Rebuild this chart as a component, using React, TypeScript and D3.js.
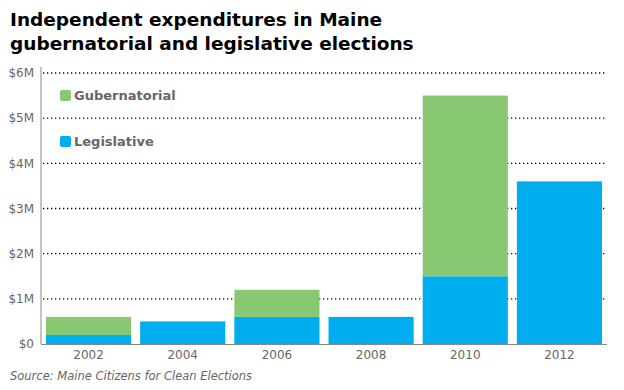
import React from "react";
import * as d3 from "d3";

const years = ["2002", "2004", "2006", "2008", "2010", "2012"];
const legislative = [0.2, 0.5, 0.6, 0.6, 1.5, 3.6];
const gubernatorial = [0.4, 0, 0.6, 0, 4.0, 0];
const yTicks = [0, 1, 2, 3, 4, 5, 6];
const yTickLabels = ["$0", "$1M", "$2M", "$3M", "$4M", "$5M", "$6M"];
const seriesNames = ["Gubernatorial", "Legislative"];

const GREEN = "#89c873";
const BLUE = "#00adef";
const GREY = "#666666";
const FONT = "'DejaVu Sans', Verdana, sans-serif";

export default function App() {
  const W = 624, H = 390;
  const x = d3.scaleBand<string>().domain(years).range([41, 607]).paddingInner(0.096).paddingOuter(0.053);
  const y = d3.scaleLinear().domain([0, 6]).range([344, 73]);

  const rows = years.map((yr, i) => ({ year: yr, Legislative: legislative[i], Gubernatorial: gubernatorial[i] }));
  const stack = d3.stack<any>().keys(["Legislative", "Gubernatorial"])(rows);
  const colors: Record<string, string> = { Legislative: BLUE, Gubernatorial: GREEN };

  return (
    <svg width={W} height={H} style={{ position: "absolute", left: 0, top: 0, background: "#fff" }}>
      <rect width={W} height={H} fill="#fff" />
      <text x={10} y={26} fontFamily={FONT} fontWeight="bold" fontSize={18.5} fill="#000">Independent expenditures in Maine</text>
      <text x={10} y={50} fontFamily={FONT} fontWeight="bold" fontSize={18.5} fill="#000">gubernatorial and legislative elections</text>

      {yTicks.filter(t => t > 0).map(t => (
        <line key={t} x1={43} x2={606} y1={y(t)} y2={y(t)} stroke="#000" strokeWidth={1.3} strokeDasharray="1.3,2.7" />
      ))}
      {yTicks.map((t, i) => (
        <text key={t} x={34} y={y(t)} dy="0.35em" textAnchor="end" fontFamily={FONT} fontSize={12} fill={GREY}>{yTickLabels[i]}</text>
      ))}

      {stack.map(s => s.map((d, i) => (
        d[1] - d[0] > 0 ? (
          <rect key={s.key + i} x={x(years[i])} width={x.bandwidth()} y={y(d[1])} height={y(d[0]) - y(d[1])} fill={colors[s.key]} />
        ) : null
      )))}

      <line x1={41} x2={41} y1={67} y2={344} stroke="#888" strokeWidth={1} />
      <line x1={41} x2={607} y1={344.5} y2={344.5} stroke="#888" strokeWidth={1} />

      {years.map(yr => (
        <text key={yr} x={(x(yr) as number) + x.bandwidth() / 2} y={359} textAnchor="middle" fontFamily={FONT} fontSize={12} fill={GREY}>{yr}</text>
      ))}

      {seriesNames.map((n, i) => (
        <g key={n} transform={`translate(60, ${90 + i * 46})`}>
          <rect x={0} y={0} width={11} height={11} rx={2} fill={n === "Legislative" ? BLUE : GREEN} />
          <text x={14} y={5.5} dy="0.35em" fontFamily={FONT} fontWeight="bold" fontSize={13} fill={GREY}>{n}</text>
        </g>
      ))}

      <text x={10} y={380} fontFamily={FONT} fontStyle="italic" fontSize={11.5} fill={GREY}>Source: Maine Citizens for Clean Elections</text>
    </svg>
  );
}
